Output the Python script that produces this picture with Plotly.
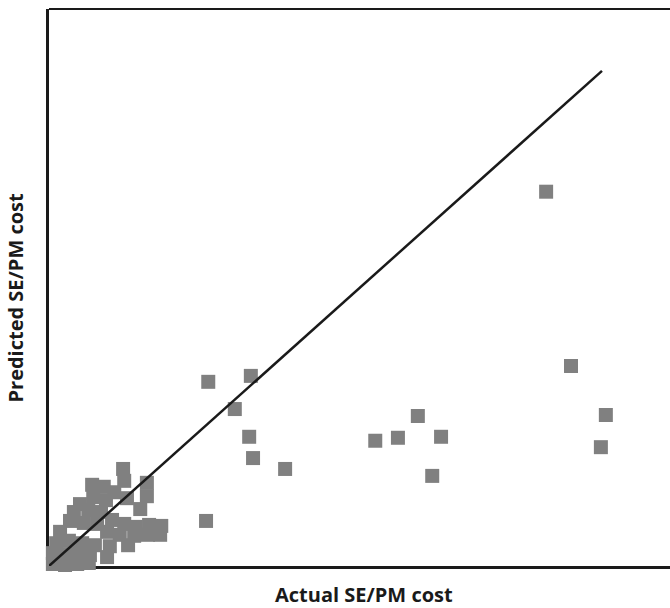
import plotly.graph_objects as go

# Actual vs predicted SE/PM cost (relative units)
actual = [
    89.9, 94.4, 100.7, 99.8, 28.8, 36.5, 33.6, 36.2, 36.9, 42.7,
    59.0, 63.1, 66.7, 70.9, 69.3, 28.4,
    13.4, 13.6, 17.7, 17.7, 16.5, 7.8, 9.9, 11.8, 8.0, 10.3, 14.1,
    5.6, 4.5, 7.1, 9.4, 3.8, 6.3, 8.7, 11.4, 13.6, 15.7, 18.1, 20.3,
    20.1, 17.9, 15.4, 12.8, 10.5, 2.0, 1.3, 3.6, 6.0, 8.3, 11.0, 14.3,
    10.5, 0.7, 2.9, 5.2, 7.4, 0.7, 2.9, 5.1, 7.2,
]
predicted = [
    75.6, 40.4, 30.5, 24.0, 37.2, 38.4, 31.7, 26.1, 21.8, 19.6,
    25.3, 25.9, 30.3, 26.1, 18.2, 9.1,
    19.6, 17.2, 16.8, 14.1, 11.5, 16.4, 16.0, 14.9, 13.9, 13.3, 13.7,
    12.5, 10.9, 11.3, 10.9, 9.1, 8.7, 8.5, 9.3, 8.5, 7.9, 8.3, 8.1,
    6.3, 6.3, 6.1, 6.3, 6.9, 6.9, 4.6, 5.1, 4.6, 4.2, 4.0, 4.2,
    1.8, 2.6, 2.4, 2.6, 2.2, 0.4, 0.2, 0.4, 0.6,
]

# Line of perfect prediction (predicted = actual)
ideal = [0, 100]

x_title = "Actual SE/PM cost"
y_title = "Predicted SE/PM cost"

fig = go.Figure()
fig.add_trace(go.Scatter(
    x=actual, y=predicted, mode="markers",
    marker=dict(symbol="square", size=14, color="#808080", line=dict(width=0)),
    cliponaxis=False, hoverinfo="skip",
))
fig.add_trace(go.Scatter(
    x=ideal, y=ideal, mode="lines",
    line=dict(color="#1a1a1a", width=2.5),
    cliponaxis=False, hoverinfo="skip",
))

title_font = dict(family="Open Sans", size=20, color="#1a1a1a")

axis_style = dict(
    showgrid=False, zeroline=False, showticklabels=False, ticks="",
    showline=True, linecolor="#1a1a1a", linewidth=3, layer="below traces",
)

fig.update_layout(
    width=670, height=608,
    margin=dict(l=49, r=0, t=9, b=42),
    paper_bgcolor="white", plot_bgcolor="white",
    showlegend=False,
    xaxis=dict(range=[0, 112.3], **axis_style),
    yaxis=dict(range=[0, 112.5], **axis_style),
    shapes=[dict(
        type="line", xref="paper", yref="paper",
        x0=0, x1=1, y0=1, y1=1,
        line=dict(color="#1a1a1a", width=2),
    )],
    annotations=[
        dict(text="<b>" + x_title + "</b>", xref="paper", yref="paper",
             x=0.5, y=0, xanchor="center", yanchor="middle",
             xshift=4, yshift=-28, showarrow=False, font=title_font),
        dict(text="<b>" + y_title + "</b>", xref="paper", yref="paper",
             x=0, y=0.5, xanchor="center", yanchor="middle", textangle=-90,
             xshift=-34, yshift=-10, showarrow=False, font=title_font),
    ],
)

fig.write_html("out.html")
